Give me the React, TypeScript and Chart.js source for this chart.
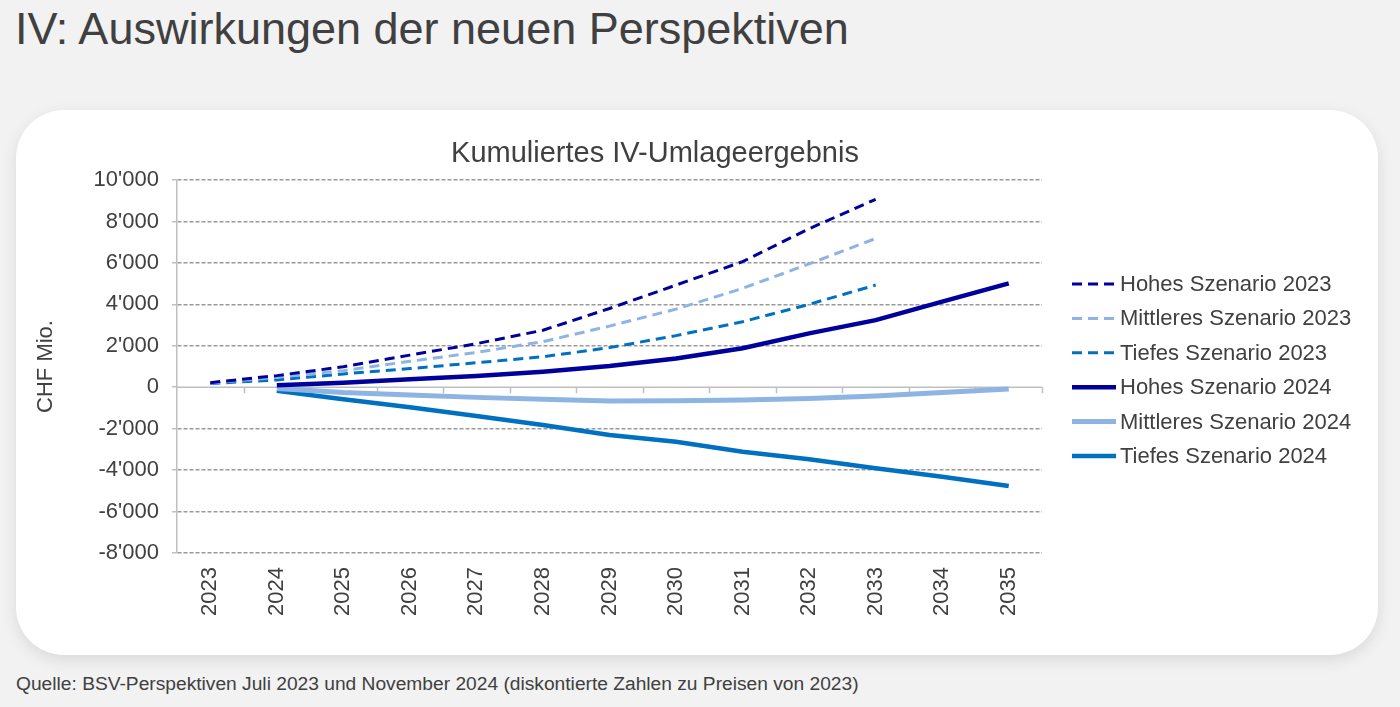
import React, { useEffect, useRef } from "react";
import { Chart, registerables } from "chart.js";

Chart.register(...registerables);

// Years on the category axis
const years = ["2023", "2024", "2025", "2026", "2027", "2028", "2029", "2030", "2031", "2032", "2033", "2034", "2035"];

// Cumulative IV result, CHF million — July 2023 outlook (2023–2033)
const hohes2023 = [220, 560, 990, 1550, 2100, 2750, 3800, 4930, 6060, 7650, 9070];
const mittleres2023 = [200, 480, 800, 1250, 1680, 2200, 2950, 3770, 4770, 5950, 7180];
const tiefes2023 = [180, 350, 640, 900, 1180, 1470, 1910, 2490, 3160, 4000, 4930];

// November 2024 outlook (2024–2035)
const hohes2024 = [null, 100, 220, 380, 540, 750, 1020, 1390, 1880, 2600, 3240, 4130, 5010];
const mittleres2024 = [null, -60, -260, -380, -490, -580, -670, -650, -620, -540, -420, -250, -90];
const tiefes2024 = [null, -170, -580, -970, -1390, -1820, -2310, -2630, -3110, -3480, -3910, -4320, -4770];

const seriesLabels = [
  "Hohes Szenario 2023",
  "Mittleres Szenario 2023",
  "Tiefes Szenario 2023",
  "Hohes Szenario 2024",
  "Mittleres Szenario 2024",
  "Tiefes Szenario 2024",
];

const chartTitle = "Kumuliertes IV-Umlageergebnis";

const yMin = -8000;
const yMax = 10000;
const yStep = 2000;

const NAVY = "#00009c";
const LIGHT = "#8db4e2";
const MID = "#0070c0";
const TEXT = "#404040";
const FONT = '"Liberation Sans", Arial, sans-serif';

const fmt = (v: number) => {
  const s = Math.abs(v).toString().replace(/\B(?=(\d{3})+(?!\d))/g, "'");
  return (v < 0 ? "-" : "") + s;
};

// Solid zero line with category tick marks, like an axis crossing at 0
const zeroAxisPlugin = {
  id: "zeroAxis",
  beforeDatasetsDraw(chart: any) {
    const { ctx, chartArea, scales } = chart;
    const y0 = scales.y.getPixelForValue(0);
    const n = chart.data.labels.length;
    const w = (chartArea.right - chartArea.left) / n;
    ctx.save();
    ctx.strokeStyle = "#bfbfbf";
    ctx.lineWidth = 1.5;
    ctx.beginPath();
    ctx.moveTo(chartArea.left, y0);
    ctx.lineTo(chartArea.right, y0);
    for (let k = 1; k <= n; k++) {
      const x = Math.round(chartArea.left + k * w) + 0.5;
      ctx.moveTo(x, y0);
      ctx.lineTo(x, y0 + 6);
    }
    ctx.stroke();
    ctx.restore();
  },
};

// Chart heading, centred over plot plus legend
const headingPlugin = {
  id: "heading",
  afterDraw(chart: any) {
    const { ctx, chartArea } = chart;
    ctx.save();
    ctx.fillStyle = TEXT;
    ctx.font = `29px ${FONT}`;
    ctx.textAlign = "center";
    ctx.textBaseline = "middle";
    ctx.fillText(chartTitle, chartArea.left + 478, chartArea.top - 26);
    ctx.restore();
  },
};

// Legend to the right of the plot area
const sideLegendPlugin = {
  id: "sideLegend",
  afterDraw(chart: any) {
    const { ctx, chartArea } = chart;
    const x0 = chartArea.right + 30;
    chart.data.datasets.forEach((ds: any, i: number) => {
      const y = chartArea.top + 104 + i * 34.4;
      ctx.save();
      ctx.strokeStyle = ds.borderColor;
      ctx.lineWidth = ds.borderWidth;
      ctx.setLineDash(ds.borderDash || []);
      ctx.beginPath();
      ctx.moveTo(x0, y);
      ctx.lineTo(x0 + 44, y);
      ctx.stroke();
      ctx.setLineDash([]);
      ctx.fillStyle = TEXT;
      ctx.font = `22px ${FONT}`;
      ctx.textBaseline = "middle";
      ctx.textAlign = "left";
      ctx.fillText(ds.label, x0 + 48, y + 1);
      ctx.restore();
    });
  },
};

function IvChart() {
  const ref = useRef<HTMLCanvasElement | null>(null);

  useEffect(() => {
    if (!ref.current) return;
    const dashed = (label: string, data: (number | null)[], color: string) => ({
      label,
      data,
      borderColor: color,
      backgroundColor: color,
      borderWidth: 3,
      borderDash: [10, 6],
      pointRadius: 0,
      tension: 0,
      fill: false,
    });
    const solid = (label: string, data: (number | null)[], color: string, width: number) => ({
      label,
      data,
      borderColor: color,
      backgroundColor: color,
      borderWidth: width,
      pointRadius: 0,
      tension: 0,
      fill: false,
    });

    const chart = new Chart(ref.current, {
      type: "line",
      data: {
        labels: years,
        datasets: [
          dashed(seriesLabels[0], hohes2023, NAVY),
          dashed(seriesLabels[1], mittleres2023, LIGHT),
          dashed(seriesLabels[2], tiefes2023, MID),
          solid(seriesLabels[3], hohes2024, NAVY, 4.5),
          solid(seriesLabels[4], mittleres2024, LIGHT, 5),
          solid(seriesLabels[5], tiefes2024, MID, 4.5),
        ] as any,
      },
      options: {
        animation: false,
        responsive: false,
        maintainAspectRatio: false,
        layout: { padding: { left: 17, right: 336, top: 70, bottom: 0 } },
        plugins: {
          legend: { display: false },
          tooltip: { enabled: false },
          title: { display: false },
        },
        scales: {
          x: {
            offset: true,
            grid: { display: false, drawTicks: false, offset: true },
            border: { display: false },
            ticks: {
              color: TEXT,
              font: { family: FONT, size: 22 },
              minRotation: 90,
              maxRotation: 90,
              padding: 14,
              autoSkip: false,
            },
            afterFit: (s: any) => {
              s.height = 102;
            },
          },
          y: {
            min: yMin,
            max: yMax,
            grid: {
              color: (c: any) => (c.tick && c.tick.value === 0 ? "rgba(0,0,0,0)" : "#9a9a9a"),
              lineWidth: 1.5,
              tickLength: 5,
              tickColor: "#bfbfbf",
              tickWidth: 1.5,
              tickBorderDash: [],
            },
            border: { display: true, color: "#bfbfbf", width: 1.5, dash: [4, 2] },
            ticks: {
              stepSize: yStep,
              color: TEXT,
              font: { family: FONT, size: 22 },
              padding: 13,
              callback: (v: any) => fmt(Number(v)),
            },
            title: {
              display: true,
              text: "CHF Mio.",
              color: TEXT,
              font: { family: FONT, size: 22 },
              padding: { top: 0, bottom: 0 },
            },
            afterFit: (s: any) => {
              s.width = 144;
            },
          },
        },
      } as any,
      plugins: [zeroAxisPlugin, headingPlugin, sideLegendPlugin],
    });
    return () => chart.destroy();
  }, []);

  return <canvas ref={ref} width={1362} height={545} style={{ display: "block", width: 1362, height: 545 }} />;
}

export default function App() {
  return (
    <div
      style={{
        position: "fixed",
        left: 0,
        top: 0,
        width: 1400,
        height: 707,
        background: "#f2f2f2",
        fontFamily: FONT,
        color: TEXT,
        overflow: "hidden",
      }}
    >
      <div
        style={{
          position: "absolute",
          left: 15,
          top: 1,
          fontSize: 45,
          lineHeight: "56px",
          whiteSpace: "nowrap",
        }}
      >
        IV: Auswirkungen der neuen Perspektiven
      </div>
      <div
        style={{
          position: "absolute",
          left: 16,
          top: 110,
          width: 1362,
          height: 545,
          background: "#ffffff",
          borderRadius: 48,
          boxShadow: "0 5px 16px rgba(0,0,0,0.10)",
          overflow: "hidden",
        }}
      >
        <IvChart />
      </div>
      <div
        style={{
          position: "absolute",
          left: 16,
          top: 672,
          fontSize: 19.2,
          lineHeight: "24px",
          whiteSpace: "nowrap",
        }}
      >
        Quelle: BSV-Perspektiven Juli 2023 und November 2024 (diskontierte Zahlen zu Preisen von 2023)
      </div>
    </div>
  );
}
